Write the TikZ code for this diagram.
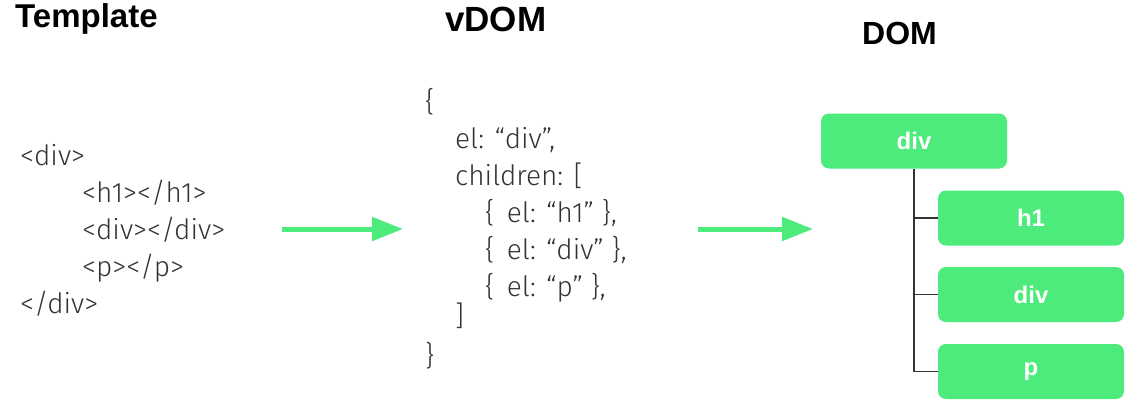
\documentclass[tikz,border=0pt]{standalone}
\usepackage{fontspec}
\setmainfont{Liberation Sans}
\newfontfamily\lightfont{Fira Sans Light}
\usetikzlibrary{arrows.meta}
\definecolor{vgreen}{HTML}{4CEB7C}
\definecolor{treeline}{HTML}{333333}
\definecolor{codetext}{HTML}{333333}
\tikzset{
  title/.style={anchor=base west, inner sep=0pt, font=\bfseries\fontsize{33}{36}\selectfont},
  code/.style={anchor=base west, inner sep=0pt, text=codetext, font=\lightfont\fontsize{28}{30}\selectfont},
  domnode/.style={fill=vgreen, rounded corners=8pt, minimum width=186pt, inner sep=0pt, text=white, font=\bfseries\fontsize{24}{26}\selectfont},
  bigarrow/.style={draw=vgreen, line width=5pt, -{Triangle[length=31pt, width=23pt]}},
  branch/.style={draw=treeline, line width=1.5pt}
}
\begin{document}
\begin{tikzpicture}[x=1pt,y=-1pt]
\useasboundingbox (0,0) rectangle (1142,416);
% titles
\node[title] (t1) at (15,27) {Template};
\node[title, font=\bfseries\fontsize{35}{38}\selectfont] (t2) at (445,31) {vDOM};
\node[title, font=\bfseries\fontsize{32}{35}\selectfont] (t3) at (862,44) {DOM};
% template code
\node[code] (a1) at (20,165) {<div>};
\node[code] (a2) at (82,202) {<h1></h1>};
\node[code] (a3) at (82,239) {<div></div>};
\node[code] (a4) at (82,276) {<p></p>};
\node[code] (a5) at (20,313) {</div>};
% vdom code
\node[code] (b1) at (425,111) {\{};
\node[code] (b2) at (455,148) {el: “div”,};
\node[code] (b3) at (455,185) {children: [};
\node[code] (b4) at (485,222) {\{\,\ el: “h1” \},};
\node[code] (b5) at (485,259) {\{\,\ el: “div” \},};
\node[code] (b6) at (485,296) {\{\,\ el: “p” \},};
\node[code] (b7) at (455,325) {]};
\node[code] (b8) at (425,365) {\}};
% arrows
\coordinate (p1) at (282,229);
\coordinate (p2) at (403,229);
\coordinate (p3) at (698,229);
\coordinate (p4) at (813,229);
\draw[bigarrow] (p1) -- (p2);
\draw[bigarrow] (p3) -- (p4);
% DOM tree
\node[domnode, minimum height=55pt] (root) at (914,141) {div};
\node[domnode, minimum height=55pt] (c1) at (1031,218) {h1};
\node[domnode, minimum height=55pt] (c2) at (1031,294.5) {div};
\node[domnode, minimum height=55pt] (c3) at (1031,371.5) {p};
\draw[branch] (root.south) |- (c3.west);
\draw[branch] (root.south |- c1.west) -- (c1.west);
\draw[branch] (root.south |- c2.west) -- (c2.west);
\end{tikzpicture}
\end{document}
